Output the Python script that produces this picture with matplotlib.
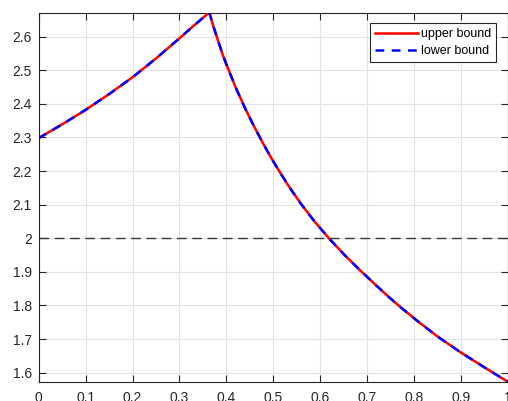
import matplotlib
matplotlib.use("Agg")
import matplotlib.pyplot as plt

# Data (both bounds coincide)
x_vals = [0.00, 0.05, 0.10, 0.15, 0.20, 0.25, 0.30, 0.33, 0.3638,
          0.372, 0.382, 0.392, 0.40, 0.42, 0.44, 0.456, 0.475, 0.495,
          0.515, 0.536, 0.56, 0.587, 0.62, 0.653, 0.685, 0.717, 0.745,
          0.773, 0.81, 0.85, 0.90, 0.95, 1.00]
upper_vals = [2.298, 2.339, 2.382, 2.429, 2.479, 2.535, 2.595, 2.632, 2.672,
              2.633, 2.590, 2.548, 2.518, 2.449, 2.387, 2.342, 2.291, 2.241,
              2.195, 2.149, 2.101, 2.052, 1.998, 1.949, 1.905, 1.863, 1.827,
              1.793, 1.751, 1.708, 1.660, 1.616, 1.573]
lower_vals = [2.298, 2.339, 2.382, 2.429, 2.479, 2.535, 2.595, 2.632, 2.672,
              2.633, 2.590, 2.548, 2.518, 2.449, 2.387, 2.342, 2.291, 2.241,
              2.195, 2.149, 2.101, 2.052, 1.998, 1.949, 1.905, 1.863, 1.827,
              1.793, 1.751, 1.708, 1.660, 1.616, 1.573]
ref_level = 2.0
x_ticks = [0, 0.1, 0.2, 0.3, 0.4, 0.5, 0.6, 0.7, 0.8, 0.9, 1]
x_tick_labels = ["0", "0.1", "0.2", "0.3", "0.4", "0.5", "0.6", "0.7", "0.8", "0.9", "1"]
y_ticks = [1.6, 1.7, 1.8, 1.9, 2.0, 2.1, 2.2, 2.3, 2.4, 2.5, 2.6]
y_tick_labels = ["1.6", "1.7", "1.8", "1.9", "2", "2.1", "2.2", "2.3", "2.4", "2.5", "2.6"]
series_names = ["upper bound", "lower bound"]

plt.rcParams['font.family'] = ['Liberation Sans', 'DejaVu Sans']

fig = plt.figure(figsize=(5.08, 4.01), dpi=100)
ax_left, ax_bottom, ax_w, ax_h = 38.7, 19.3, 469.0, 369.2
ax = fig.add_axes([ax_left / 508, ax_bottom / 401, ax_w / 508, ax_h / 401])

ax.axhline(ref_level, color='#3a3a3a', lw=1.0, ls=(0, (7, 4)), zorder=2)
ax.plot(x_vals, upper_vals, color='red', lw=1.8, ls='-', label=series_names[0],
        zorder=3, solid_joinstyle='round')
ax.plot(x_vals, lower_vals, color='blue', lw=1.8, ls=(0, (3.5, 3)), label=series_names[1],
        zorder=4, dash_joinstyle='round')

ax.set_xlim(0, 1)
ax.set_ylim(min(lower_vals), max(upper_vals))
ax.set_xticks(x_ticks)
ax.set_xticklabels(x_tick_labels)
ax.set_yticks(y_ticks)
ax.set_yticklabels(y_tick_labels)

ax.grid(True, color='#e3e3e3', lw=0.8, zorder=0)
ax.set_axisbelow(True)
for sp in ax.spines.values():
    sp.set_color('#262626')
    sp.set_linewidth(0.8)
ax.tick_params(direction='in', length=5, width=0.8, colors='#262626',
               top=True, right=True, labelsize=10)
ax.tick_params(axis='x', pad=7)
ax.tick_params(axis='y', pad=5)

leg = ax.legend(loc='upper right',
                bbox_to_anchor=((496 - ax_left) / ax_w, 1 - (23 - 12.5) / ax_h),
                bbox_transform=ax.transAxes,
                fontsize=9, frameon=True, fancybox=False, handlelength=3.4,
                handletextpad=0.25, borderpad=0.4, labelspacing=0.4, borderaxespad=0)
leg.get_frame().set_edgecolor('#262626')
leg.get_frame().set_linewidth(0.8)
leg.get_frame().set_alpha(1.0)

fig.savefig("out.png", dpi=100)
